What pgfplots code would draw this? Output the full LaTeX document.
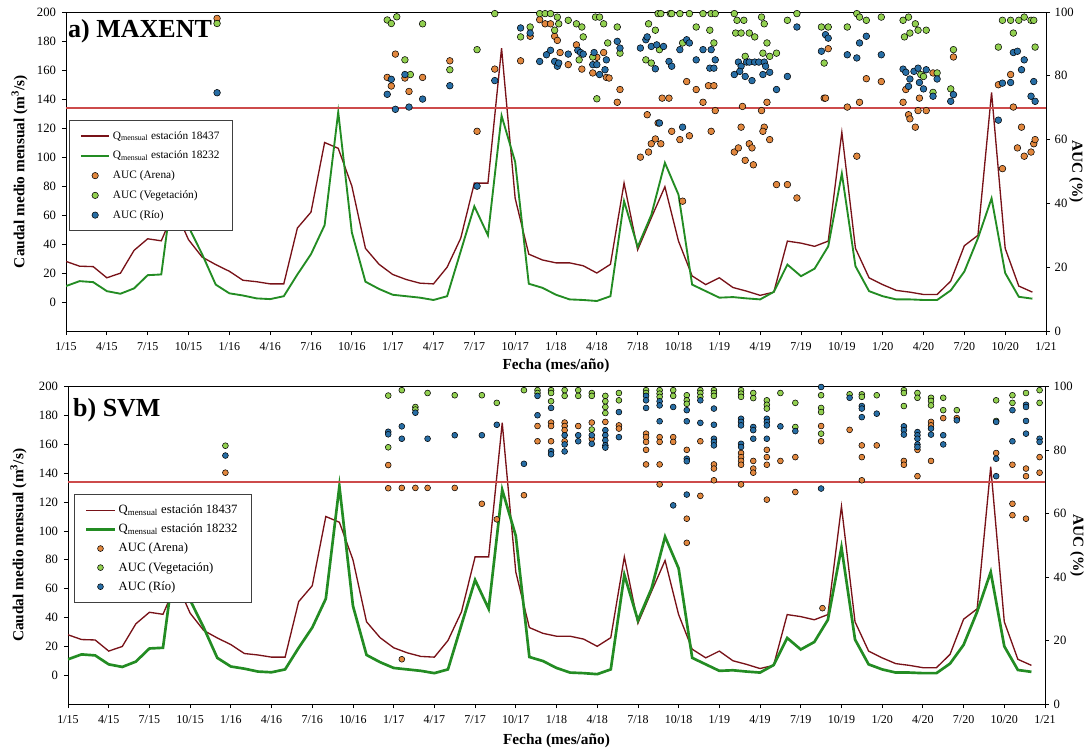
\documentclass[border=0pt]{standalone}
\usepackage{pgfplots}
\pgfplotsset{compat=1.18}
\usepackage{pgfplotstable}
\usepackage{fontspec}
\setmainfont{Liberation Serif}

\definecolor{qred}{RGB}{120,18,24}
\definecolor{qgreen}{RGB}{35,140,35}
\definecolor{aucline}{RGB}{205,75,75}
\definecolor{aorange}{RGB}{225,135,62}
\definecolor{agreen}{RGB}{146,208,80}
\definecolor{ablue}{RGB}{40,110,165}

\pgfplotstableread{
m r g
0 28 11
1 24.7 14.4
2 24.4 13.7
3 16.7 7.5
4 19.9 5.7
5 35.6 9.4
6 43.6 18.5
7 42.2 19
8 64 90
9 43 52
10 31 33
11 25.8 12
12 21.2 6
13 15 4.5
14 14 2.5
15 12.5 2
16 12.5 4
17 51 19
18 62 33
19 110 53
20 106 131
21 80 48
22 37 14
23 26 9
24 19 5
25 15.5 4
26 13 3
27 12.5 1.4
28 24 4
29 44 35
30 82 66
31 82 46
32 175 128.5
33 71.5 96.6
34 33 12.6
35 29 9.8
36 27 5
37 27 1.8
38 25 1.4
39 20 0.7
40 26 4
41 82 69.6
42 36 38
43 58 60
44 79.5 96
45 42 74
46 18 12
47 12 7.5
48 16.7 3
49 10 3.4
50 7.5 2.5
51 4.6 1.8
52 6.8 7
53 42 25.8
54 40.6 17.8
55 38.4 23
56 42 38.4
57 117 88.6
58 37 24.7
59 16.7 7.5
60 12 4
61 8 1.8
62 6.8 1.8
63 5.2 1.4
64 5.2 1.4
65 14.4 8
66 38.8 21
67 46 44
68 144.5 71.5
69 37 20
70 11 3.6
71 6.8 2.3
}\flow

% ---------- panel a (MAXENT) AUC values ----------
\pgfplotstableread{
m a
11.1 98.0
24.2 86.8
23.6 79.5
23.9 76.8
24.9 79.3
25.2 75.1
26.2 79.5
28.2 84.7
30.2 62.6
31.5 82.1
33.4 84.7
34.1 92.4
34.8 97.6
35.2 96.3
35.6 96.3
35.9 92.4
36.1 91.1
36.3 87.3
36.9 83.5
37.5 89.7
37.9 82.1
39.0 85.8
39.5 87.3
38.7 80.9
39.7 79.5
39.9 79.3
40.7 75.7
40.5 71.7
45.6 78.2
46.3 75.7
47.2 76.9
47.6 76.9
43.8 73.0
44.3 73.0
46.8 71.7
47.7 69.1
42.7 67.8
43.5 65.2
44.5 62.6
45.8 61.2
45.1 60.0
47.4 62.6
43.3 60.2
43.0 58.7
43.7 58.7
42.8 56.1
42.2 54.5
45.3 40.7
49.7 70.4
51.1 69.1
51.5 71.7
49.6 63.9
51.3 63.9
51.2 62.6
51.7 60.0
50.2 58.7
50.4 57.4
49.1 56.1
49.4 57.4
49.9 53.5
50.5 52.1
52.2 45.9
53.0 45.9
53.7 41.7
55.7 73.0
56.0 88.5
55.8 73.0
58.8 79.1
57.4 70.2
58.3 71.7
58.1 54.8
59.9 78.2
63.7 80.9
61.7 75.7
62.7 73.0
61.5 71.7
62.6 69.1
63.2 69.1
61.9 67.8
62.0 66.5
62.4 63.9
65.2 85.9
69.4 80.4
68.5 77.2
69.6 70.2
70.2 63.9
69.9 57.4
70.4 54.8
70.9 56.1
71.1 58.7
71.2 60.0
68.8 50.9
}\arenaA

\pgfplotstableread{
m a
11.1 96.4
23.6 97.5
23.9 96.4
24.3 98.5
24.9 85.0
25.3 80.4
26.2 96.3
28.2 81.9
30.2 88.2
31.5 99.5
33.4 92.2
34.1 95.3
34.8 99.5
35.2 99.5
35.6 99.5
36.1 98.4
36.2 96.3
35.9 94.3
36.9 97.4
37.5 96.3
37.9 95.3
38.0 92.2
37.7 85.0
38.9 98.4
39.2 98.4
39.5 96.3
39.8 90.3
38.7 85.9
39.0 72.8
40.5 95.3
40.7 87.1
43.5 99.5
43.7 99.5
44.4 99.5
44.5 99.5
45.1 99.5
45.8 99.5
46.8 99.5
47.4 99.5
47.7 99.5
49.1 99.5
51.1 98.4
53.7 99.5
42.8 96.3
43.3 94.3
46.3 95.3
47.3 94.3
49.3 97.4
49.8 97.4
51.3 96.3
49.2 93.4
49.6 93.4
50.2 93.4
50.6 92.2
53.0 97.4
43.6 88.2
42.6 85.0
43.0 84.0
45.3 90.3
47.6 90.3
49.9 86.1
51.2 87.1
51.7 86.1
51.5 90.3
52.2 87.1
55.7 84.0
55.5 95.3
56.0 95.3
58.1 99.5
58.3 98.4
58.8 97.4
57.4 95.3
59.9 98.4
61.5 97.4
61.9 98.4
61.6 92.2
62.0 93.4
62.4 96.3
62.6 94.3
63.2 94.3
62.8 80.4
63.0 79.8
64.0 80.9
63.7 74.8
65.2 88.2
65.0 75.9
68.8 97.4
69.4 97.4
70.0 97.4
70.4 98.4
70.9 97.4
71.1 97.4
69.6 93.4
68.5 89.0
71.2 89.0
}\vegA

\pgfplotstableread{
m a
11.1 74.7
23.9 78.9
23.6 74.2
24.2 69.5
24.9 80.4
25.2 70.2
26.2 72.7
28.2 76.9
30.2 45.4
31.5 78.5
33.4 95.0
34.1 93.4
34.8 84.5
35.3 86.6
35.6 88.0
35.9 84.5
36.1 83.0
36.2 84.0
36.9 86.8
37.6 88.0
37.8 87.3
38.0 86.8
38.8 87.3
38.7 83.5
39.0 83.5
39.6 81.9
39.7 85.0
39.2 80.4
40.5 90.8
40.7 88.7
42.6 91.3
42.7 92.2
42.2 88.7
43.0 89.2
43.4 89.7
43.9 89.2
43.3 82.2
45.6 91.3
45.8 90.3
45.1 88.2
44.3 84.5
44.5 83.0
46.3 85.0
46.8 88.2
47.4 88.2
47.7 85.0
47.3 82.4
47.6 82.4
43.6 65.2
45.3 63.9
49.4 84.3
49.6 83.0
50.0 84.3
50.2 84.3
50.6 84.3
50.9 84.3
51.3 84.3
51.4 83.0
49.1 80.4
49.5 81.4
49.9 79.8
50.4 78.5
51.2 80.4
51.7 81.1
52.2 75.7
53.0 79.8
53.7 95.3
55.5 87.7
55.8 92.9
56.0 91.8
57.4 86.6
58.3 90.3
58.8 92.4
58.1 85.6
59.9 86.6
61.5 82.1
61.7 81.1
62.0 79.0
62.3 81.4
62.6 82.4
63.2 81.9
62.7 77.9
63.0 75.9
64.0 79.0
63.7 73.6
61.9 76.7
65.2 74.1
65.0 72.0
69.6 87.3
69.9 87.7
70.4 85.0
70.2 81.9
69.4 77.9
68.8 77.7
71.1 78.2
70.9 73.6
71.2 72.0
68.5 66.1
}\rioA

% ---------- panel b (SVM) AUC values ----------
\pgfplotstableread{
m a
11.6 72.9
23.6 75.3
23.6 68.0
24.6 68.1
24.6 14.1
25.6 68.1
26.5 68.1
28.5 68.1
30.5 63.1
31.6 58.2
33.6 65.8
34.6 87.6
34.6 82.8
35.6 88.7
35.6 87.6
35.6 82.8
36.6 88.7
36.6 87.6
36.6 86.3
36.6 82.8
37.6 87.6
38.6 88.7
38.6 83.6
39.6 88.9
40.6 87.8
40.6 86.8
42.6 85.2
42.6 84.1
42.6 82.6
42.6 80.1
42.6 75.5
43.6 84.1
43.6 82.6
43.6 75.5
43.6 69.2
44.6 84.1
44.6 82.6
45.6 80.1
45.6 58.4
45.6 50.8
46.6 82.8
46.6 65.6
47.6 75.5
47.6 74.2
47.6 70.5
49.6 79.1
49.6 77.8
49.6 76.6
49.6 75.4
49.6 69.2
50.5 76.6
50.5 74.2
50.5 72.9
51.5 80.1
51.5 77.8
51.5 75.4
51.5 64.4
52.5 76.6
53.6 77.8
53.6 66.8
55.5 87.6
55.5 82.8
55.6 30.2
57.6 86.4
58.5 81.5
58.5 77.8
58.5 70.5
59.6 81.5
61.6 76.6
61.6 75.4
62.6 80.1
62.6 71.8
63.6 88.9
63.6 87.8
63.6 76.6
64.5 90.1
65.5 90.1
68.4 79.1
69.6 75.4
69.6 63.1
69.6 59.5
70.6 74.2
70.6 71.8
70.6 58.4
71.6 77.8
71.6 72.9
}\arenaB

\pgfplotstableread{
m a
11.6 81.4
23.6 97.2
23.6 80.9
24.6 98.9
25.6 93.6
25.6 92.8
26.5 98.0
28.5 97.3
30.5 97.3
31.6 94.9
33.6 98.9
34.6 98.9
34.6 98.0
35.6 98.9
35.6 98.0
35.6 95.4
36.6 98.9
36.6 97.1
37.6 98.9
37.6 97.1
38.6 98.0
38.6 97.1
38.6 86.5
39.6 97.1
39.6 95.4
39.6 93.6
39.6 91.7
40.6 98.0
40.6 95.7
42.6 98.9
42.6 98.0
43.6 98.9
43.6 97.8
43.6 96.8
44.6 98.9
44.6 97.1
45.6 97.3
45.6 95.7
45.6 94.6
46.6 98.9
46.6 98.0
46.6 96.8
47.6 98.9
47.6 98.0
47.6 97.1
49.6 98.9
49.6 97.8
49.6 96.8
50.5 98.0
50.5 96.4
51.5 95.7
51.5 94.3
51.5 93.1
52.5 98.0
53.6 94.9
53.6 87.3
55.5 97.3
55.5 93.3
55.5 92.0
55.5 85.2
57.6 97.6
58.5 97.6
58.5 96.8
59.6 97.3
61.6 98.9
61.6 98.0
61.6 93.9
62.6 98.0
62.6 96.5
63.6 96.5
63.6 95.5
63.6 94.1
64.5 96.5
64.5 92.6
65.5 92.6
68.4 95.7
68.4 89.2
69.6 97.3
69.6 94.9
70.6 98.0
71.6 98.9
71.6 94.9
}\vegB

\pgfplotstableread{
m a
11.6 78.3
23.6 85.8
23.6 85.0
24.6 87.5
24.6 83.6
25.6 91.8
26.5 83.6
28.5 84.7
30.5 84.7
31.6 88.0
33.6 75.7
34.6 97.1
34.6 91.0
35.6 93.3
35.6 79.7
35.6 78.7
36.6 84.7
36.6 81.8
36.6 79.6
37.6 84.7
37.6 82.8
38.6 84.7
38.6 82.0
39.6 86.3
39.6 84.7
39.6 83.1
39.6 81.5
39.6 80.8
40.6 92.0
40.6 84.1
42.6 97.1
42.6 95.7
42.6 93.3
43.6 95.4
43.6 94.1
43.6 89.1
44.6 93.6
44.6 62.6
45.6 92.6
45.6 89.1
45.6 77.3
45.6 76.5
45.6 66.0
46.6 95.7
46.6 88.6
47.6 93.1
47.6 88.0
47.6 83.6
47.6 82.6
47.6 81.5
49.6 89.9
49.6 88.9
49.6 87.8
49.6 82.0
49.6 81.0
50.5 87.3
50.5 86.3
50.5 83.6
51.5 89.9
51.5 88.9
51.5 87.8
51.5 83.6
52.5 87.5
53.6 86.0
55.5 99.9
55.5 67.9
57.6 96.5
58.5 93.9
58.5 93.1
58.5 90.4
59.6 91.5
61.6 87.5
61.6 86.3
61.6 84.9
62.6 85.7
62.6 84.7
62.6 83.6
62.6 81.8
62.6 81.0
63.6 86.8
63.6 84.9
64.5 84.7
64.5 81.8
65.5 89.4
68.4 88.9
68.4 77.3
68.4 71.8
69.6 92.6
69.6 82.8
70.6 94.3
70.6 93.6
70.6 89.2
70.6 85.2
71.6 83.6
71.6 82.6
}\rioB

\pgfplotsset{
  common/.style={
    scale only axis,
    xmin=0, xmax=72,
    tick align=outside,
    major tick length=3pt,
    /pgf/number format/assume math mode=true,
    tick style={black, line width=0.6pt},
    axis line style={black, line width=0.7pt},
  },
  lineleg/.style={legend image code/.code={\draw[##1] (0cm,0cm) -- (0.75cm,0cm);}},
  markleg/.style={legend image code/.code={\draw[##1] plot coordinates {(0.375cm,0cm)};}},
}
\newcommand{\xlabs}{1/15,4/15,7/15,10/15,1/16,4/16,7/16,10/16,1/17,4/17,7/17,10/17,1/18,4/18,7/18,10/18,1/19,4/19,7/19,10/19,1/20,4/20,7/20,10/20,1/21}
\newcommand{\labfont}{\bfseries\fontsize{11.5}{13}\selectfont}

\begin{document}
\begin{tikzpicture}
\useasboundingbox (0pt,0pt) rectangle (815.25pt,-563.25pt);

% ================= Panel a =================
\begin{axis}[common,
  at={(49.5pt,-248.25pt)}, anchor=south west,
  width=735pt, height=239.25pt,
  ymin=-20, ymax=200, ytick={0,20,...,200},
  xtick={0,3,...,72}, xticklabels/.expand once={\xlabs},
  xtick pos=lower, ytick pos=left,
  xticklabel style={font=\fontsize{9}{10}\selectfont, yshift=-2pt},
  yticklabel style={font=\fontsize{9.5}{10}\selectfont, xshift=-1pt},
  xlabel={Fecha (mes/año)},
  ylabel={Caudal medio mensual (m\textsuperscript{3}/s)},
  every axis x label/.style={at={(axis description cs:0.5,-0.11)}, anchor=center, font=\labfont},
  every axis y label/.style={at={(axis description cs:-0.0474,0.5)}, rotate=90, anchor=center, font=\labfont},
  legend style={at={(axis description cs:0.003,0.661)}, anchor=north west,
    draw=black!75, line width=0.6pt, fill=white,
    font=\fontsize{8.5}{10}\selectfont, row sep=3.4pt,
    inner xsep=8pt, inner ysep=6pt},
  legend cell align=left,
]
\addplot[qred, line width=1pt, lineleg] table[x=m, y=r]{\flow};
\addlegendentry{Q\textsubscript{mensual} estación 18437}
\addplot[qgreen, line width=1.4pt, lineleg] table[x=m, y=g]{\flow};
\addlegendentry{Q\textsubscript{mensual} estación 18232}
\addlegendimage{only marks, mark=*, mark size=2.4pt, mark options={fill=aorange, draw=black, line width=0.4pt}, markleg}
\addlegendentry{AUC (Arena)}
\addlegendimage{only marks, mark=*, mark size=2.4pt, mark options={fill=agreen, draw=black, line width=0.4pt}, markleg}
\addlegendentry{AUC (Vegetación)}
\addlegendimage{only marks, mark=*, mark size=2.4pt, mark options={fill=ablue, draw=black, line width=0.4pt}, markleg}
\addlegendentry{AUC (Río)}
\node[anchor=north west, inner sep=0pt, font=\bfseries\fontsize{19.5}{20}\selectfont] at (rel axis cs:0.002,0.978) {a) MAXENT};
\end{axis}

\begin{axis}[common,
  at={(49.5pt,-248.25pt)}, anchor=south west,
  width=735pt, height=239.25pt,
  ymin=0, ymax=100, ytick={0,20,...,100},
  axis y line*=right, axis x line=none,
  yticklabel style={font=\fontsize{9.5}{10}\selectfont},
  ylabel={AUC (\%)},
  every axis y label/.style={at={(axis description cs:1.0306,0.5)}, rotate=-90, anchor=center, font=\labfont},
  clip=false,
]
\addplot[draw=aucline, line width=1.4pt, mark=none] coordinates {(0,70) (72,70)};
\addplot[only marks, mark=*, mark size=2.5pt, mark options={fill=aorange, draw=black, line width=0.4pt}] table[x=m, y=a]{\arenaA};
\addplot[only marks, mark=*, mark size=2.5pt, mark options={fill=agreen, draw=black, line width=0.4pt}] table[x=m, y=a]{\vegA};
\addplot[only marks, mark=*, mark size=2.5pt, mark options={fill=ablue, draw=black, line width=0.4pt}] table[x=m, y=a]{\rioA};
\end{axis}

% ================= Panel b =================
\begin{axis}[common,
  at={(51pt,-528pt)}, anchor=south west,
  width=732.75pt, height=238pt,
  ymin=-20, ymax=200, ytick={0,20,...,200},
  xtick={0,3,...,72}, xticklabels/.expand once={\xlabs},
  xtick pos=lower, ytick pos=left,
  xticklabel style={font=\fontsize{9}{10}\selectfont, yshift=-2pt},
  yticklabel style={font=\fontsize{9.5}{10}\selectfont, xshift=-1pt},
  xlabel={Fecha (mes/año)},
  ylabel={Caudal medio mensual (m\textsuperscript{3}/s)},
  every axis x label/.style={at={(axis description cs:0.5,-0.117)}, anchor=center, font=\labfont},
  every axis y label/.style={at={(axis description cs:-0.0507,0.5)}, rotate=90, anchor=center, font=\labfont},
  legend style={at={(axis description cs:0.006,0.662)}, anchor=north west,
    draw=black!75, line width=0.6pt, fill=white,
    font=\fontsize{9.5}{11}\selectfont, row sep=2.2pt,
    inner xsep=8pt, inner ysep=6pt},
  legend cell align=left,
]
\addplot[qred, line width=1pt, lineleg] table[x=m, y=r]{\flow};
\addlegendentry{Q\textsubscript{mensual} estación 18437}
\addplot[qgreen, line width=2pt, lineleg] table[x=m, y=g]{\flow};
\addlegendentry{Q\textsubscript{mensual} estación 18232}
\addlegendimage{only marks, mark=*, mark size=2.2pt, mark options={fill=aorange, draw=black, line width=0.4pt}, markleg}
\addlegendentry{AUC (Arena)}
\addlegendimage{only marks, mark=*, mark size=2.2pt, mark options={fill=agreen, draw=black, line width=0.4pt}, markleg}
\addlegendentry{AUC (Vegetación)}
\addlegendimage{only marks, mark=*, mark size=2.2pt, mark options={fill=ablue, draw=black, line width=0.4pt}, markleg}
\addlegendentry{AUC (Río)}
\node[anchor=north west, inner sep=0pt, font=\bfseries\fontsize{19.5}{20}\selectfont] at (rel axis cs:0.005,0.965) {b) SVM};
\end{axis}

\begin{axis}[common,
  at={(51pt,-528pt)}, anchor=south west,
  width=732.75pt, height=238pt,
  ymin=0, ymax=100, ytick={0,20,...,100},
  axis y line*=right, axis x line=none,
  yticklabel style={font=\fontsize{9.5}{10}\selectfont},
  ylabel={AUC (\%)},
  every axis y label/.style={at={(axis description cs:1.0328,0.5)}, rotate=-90, anchor=center, font=\labfont},
  clip=false,
]
\addplot[draw=aucline, line width=1.4pt, mark=none] coordinates {(0,70) (72,70)};
\addplot[only marks, mark=*, mark size=2.2pt, mark options={fill=aorange, draw=black, line width=0.4pt}] table[x=m, y=a]{\arenaB};
\addplot[only marks, mark=*, mark size=2.2pt, mark options={fill=agreen, draw=black, line width=0.4pt}] table[x=m, y=a]{\vegB};
\addplot[only marks, mark=*, mark size=2.2pt, mark options={fill=ablue, draw=black, line width=0.4pt}] table[x=m, y=a]{\rioB};
\end{axis}
\end{tikzpicture}
\end{document}
